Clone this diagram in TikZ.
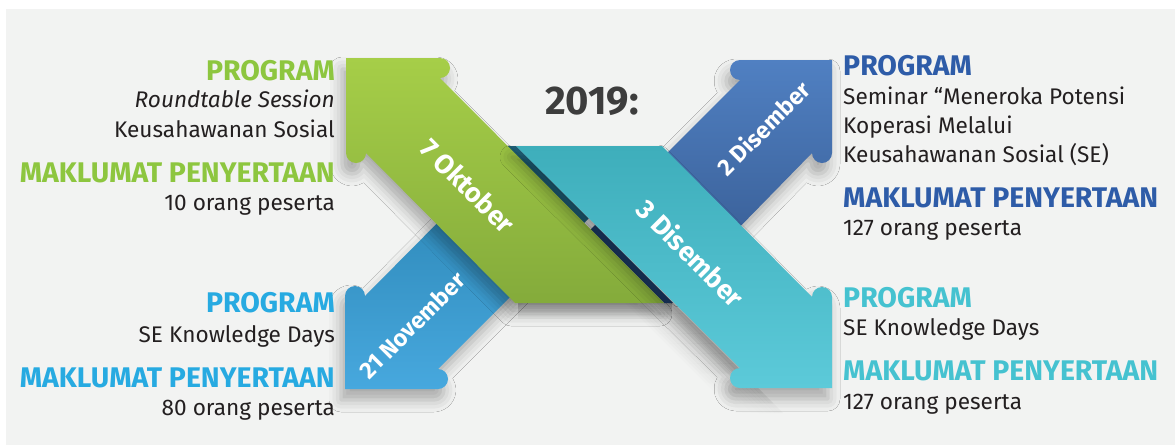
\documentclass[tikz,border=0pt]{standalone}
\usepackage{fontspec}
\setmainfont{Fira Sans}
\usetikzlibrary{shadows.blur}
\definecolor{bg}{HTML}{F2F3F2}
\definecolor{txt}{HTML}{231F20}
\definecolor{yeargray}{HTML}{3D3D3D}
\definecolor{hgreen}{HTML}{8DC63F}
\definecolor{hlblue}{HTML}{27AAE1}
\definecolor{hdblue}{HTML}{2E5CA8}
\definecolor{hteal}{HTML}{45C2D0}
\definecolor{gA}{HTML}{A6CE48}
\definecolor{gB}{HTML}{84AB3B}
\definecolor{tA}{HTML}{3EAEBB}
\definecolor{tB}{HTML}{5CCAD9}
\definecolor{dA}{HTML}{5080C2}
\definecolor{dB}{HTML}{35598F}
\definecolor{lA}{HTML}{2C86B5}
\definecolor{lB}{HTML}{47A8DE}
\definecolor{gapA}{HTML}{1E5F77}
\definecolor{gapB}{HTML}{1C3B66}
\definecolor{gapC}{HTML}{D5D8D8}
\begin{document}
\begin{tikzpicture}[x=1pt,y=-1pt,
  head/.style={font=\bfseries\fontsize{28.4}{28.4}\selectfont, inner sep=0pt},
  body/.style={font=\fontsize{22.6}{22.6}\selectfont, text=txt, inner sep=0pt},
  lab/.style={font=\bfseries\fontsize{27}{27}\selectfont, text=white, inner sep=0pt},
  labs/.style={font=\bfseries\fontsize{23.5}{23.5}\selectfont, text=white, inner sep=0pt},
  shad/.style={blur shadow={shadow xshift=-4pt, shadow yshift=-11pt, shadow opacity=30, shadow blur radius=12pt}}]
\useasboundingbox (0,0) rectangle (1175,445);
\fill[white] (0,0) rectangle (1175,445);
\fill[bg] (6,9) rectangle (1175,445);

% light blue arrow (21 November)
\shade[shad, top color=lA, bottom color=lB]
  (345,389) -- (345,296) arc[start angle=180, end angle=360, radius=10]
  -- (480,180) -- (553.5,253.5) -- (438,369)
  arc[start angle=-90, end angle=90, radius=10] -- cycle;
% dark blue arrow (2 Disember)
\shade[shad, top color=dA, bottom color=dB]
  (832,60) -- (740,60) arc[start angle=270, end angle=90, radius=10]
  -- (610,210) -- (684,284) -- (812,153)
  arc[start angle=180, end angle=0, radius=10] -- cycle;

% gap between the bands
\fill[gapC] (507,146) -- (516,146) -- (673,303) -- (664,303) -- cycle;
\fill[gapA] (507,146) -- (516,146) -- (588.5,218.5) -- (584,223) -- cycle;
\fill[gapB] (590.5,229.5) -- (595,225) -- (673,303) -- (664,303) -- cycle;

% green arrow (7 Oktober)
\shade[shad, top color=gA, bottom color=gB]
  (515,303) -- (366,153) arc[start angle=0, end angle=180, radius=10]
  -- (346,58) -- (440,58) arc[start angle=-90, end angle=90, radius=10]
  -- (664,303) -- cycle;

% soft shadows below the green end and along the teal band
\foreach \i in {0,...,7}{
  \pgfmathsetmacro\ya{303+2*\i}
  \pgfmathsetmacro\yb{\ya+2}
  \pgfmathsetmacro\op{0.22*(1-\i/8)}
  \fill[black, opacity=\op] (518,\ya) -- (672,\ya) -- (672,\yb) -- (518,\yb) -- cycle;
}
\foreach \i in {0,...,11}{
  \foreach \j in {0,...,10}{
    \pgfmathsetmacro\ca{-370+4*\i}
    \pgfmathsetmacro\cb{\ca+4}
    \pgfmathsetmacro\ya{303+10*\j}
    \pgfmathsetmacro\yb{\ya+10}
    \pgfmathsetmacro\op{0.16*(1-\i/12)*min(1,max(0,(415-\ya-5)/45))}
    \fill[black, opacity=\op] ({\ya-\ca},\ya) -- ({\yb-\ca},\yb) -- ({\yb-\cb},\yb) -- ({\ya-\cb},\ya) -- cycle;
  }
}

% teal arrow (3 Disember)
\shade[shad, top color=tA, bottom color=tB]
  (662,146) -- (812,297) arc[start angle=180, end angle=360, radius=10]
  -- (832,388) -- (740,388) arc[start angle=90, end angle=270, radius=10]
  -- (516,146) -- cycle;

% arrow labels
\node[lab, rotate=-45] (l7) at (468,186) {7 Oktober};
\node[lab, rotate=-45] (l3) at (691,253) {3 Disember};
\node[labs, rotate=45] (l2) at (763,128) {2 Disember};
\node[labs, rotate=45] (l21) at (412,325) {21 November};

% year
\node[font=\bfseries\fontsize{40}{40}\selectfont, text=yeargray, inner sep=0pt] (yr) at (592,101) {2019:};

% left top block
\node[head, text=hgreen, anchor=base east] (a1) at (335,80) {PROGRAM};
\node[body, anchor=base east] (a2) at (335,107) {\itshape Roundtable Session};
\node[body, anchor=base east] (a3) at (335,137) {Keusahawanan Sosial};
\node[head, text=hgreen, anchor=base east] (a4) at (335,182) {MAKLUMAT PENYERTAAN};
\node[body, anchor=base east] (a5) at (335,210) {10 orang peserta};

% left bottom block
\node[head, text=hlblue, anchor=base east] (b1) at (335,312) {PROGRAM};
\node[body, anchor=base east] (b2) at (335,342) {SE Knowledge Days};
\node[head, text=hlblue, anchor=base east] (b3) at (335,387) {MAKLUMAT PENYERTAAN};
\node[body, anchor=base east] (b4) at (335,415) {80 orang peserta};

% right top block
\node[head, text=hdblue, anchor=base west] (c1) at (843,75) {PROGRAM};
\node[body, anchor=base west] (c2) at (843,104) {Seminar “Meneroka Potensi};
\node[body, anchor=base west] (c3) at (843,133) {Koperasi Melalui};
\node[body, anchor=base west] (c4) at (843,162) {Keusahawanan Sosial (SE)};
\node[head, text=hdblue, anchor=base west] (c5) at (843,207) {MAKLUMAT PENYERTAAN};
\node[body, anchor=base west] (c6) at (843,235) {127 orang peserta};

% right bottom block
\node[head, text=hteal, anchor=base west] (d1) at (843,307) {PROGRAM};
\node[body, anchor=base west] (d2) at (843,335) {SE Knowledge Days};
\node[head, text=hteal, anchor=base west] (d3) at (843,380) {MAKLUMAT PENYERTAAN};
\node[body, anchor=base west] (d4) at (843,409) {127 orang peserta};
\end{tikzpicture}
\end{document}
